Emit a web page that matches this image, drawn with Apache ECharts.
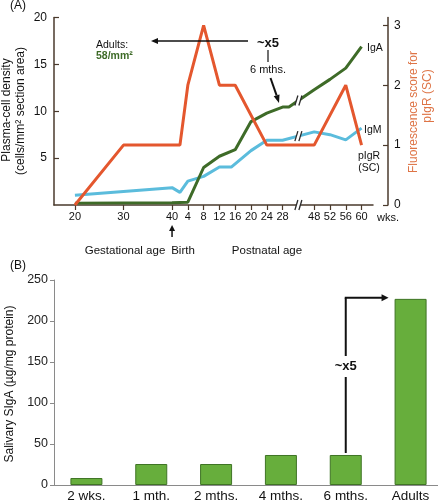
<!DOCTYPE html>
<html><head><meta charset="utf-8">
<script src="https://cdn.jsdelivr.net/npm/echarts@6/dist/echarts.min.js"></script>
<style>html,body{margin:0;padding:0;background:#fff}#c{width:438px;height:500px}</style>
</head><body><div id="c"></div>
<script>
// ---------- Panel A (age in weeks since conception: gestational week g -> g, postnatal week w -> 40 + w)
const igaAge  = [20, 40, 44, 48, 52, 56, 60, 64, 68, 72, 88, 92, 96, 100];
const igaVal  = [0.2, 0.25, 0.3, 4.0, 5.2, 5.9, 8.9, 9.8, 10.45, 10.45, 12.3, 13.4, 14.6, 16.9];
const igmAge  = [20, 30, 40, 42, 44, 48, 52, 55, 60, 64, 68, 88, 92, 96, 100];
const igmVal  = [1.05, 1.45, 1.85, 1.35, 2.55, 3.05, 4.05, 4.05, 5.8, 6.9, 6.9, 7.8, 7.5, 6.95, 8.2];
const pigrAge = [20, 30, 42, 44, 48, 52, 56, 64, 88, 96, 100];
const pigrVal = [0, 1, 1, 2, 3, 2, 2, 1, 1, 2, 1];
const gestTicks  = [20, 30, 40];
const postTicks  = [4, 8, 12, 16, 20, 24, 28, 48, 52, 56, 60];
const rightTicks = [0, 1, 2, 3];
const breakWeek  = 38; // postnatal week where the axis is broken
// ---------- Panel B
const sigaCats = ['2 wks.', '1 mth.', '2 mths.', '4 mths.', '6 mths.', 'Adults'];
const sigaVals = [8.5, 25.6, 25.6, 36.6, 36.6, 227];

// broken / two-scale age axis: gestational weeks are drawn wider, weeks 28-48 postnatal are compressed
function toAxis(t){
  if (t <= 40) return (t - 40) * 1.23;
  const w = t - 40;
  if (w <= 28) return w;
  if (w <= 48) return 28 + (w - 28) * 0.4;
  return w - 12;
}
const pair = (ages, vals) => ages.map((t, i) => [toAxis(t), vals[i]]);
const xTickVals = gestTicks.map(toAxis).concat(postTicks.map(w => toAxis(40 + w)));
const labelMap = {};
gestTicks.forEach(g => labelMap[toAxis(g).toFixed(3)] = String(g));
postTicks.forEach(w => labelMap[toAxis(40 + w).toFixed(3)] = String(w));

const FONT = '"Liberation Sans", Arial, Helvetica, sans-serif';
const BROWN = '#4a3a2c', RED = '#e4572e', GREEN = '#3e6b28', BLUE = '#5bbcdc', ORANGE = '#de7446';

const chart = echarts.init(document.getElementById('c'), null, {renderer: 'canvas'});
chart.setOption({
  animation: false,
  backgroundColor: '#ffffff',
  textStyle: {fontFamily: FONT},
  grid: [
    {left: 54, top: 17.5, width: 319, height: 187.5, containLabel: false, outerBoundsMode: 'none'},
    {left: 54, top: 280, width: 389, height: 205, containLabel: false, outerBoundsMode: 'none'}
  ],
  xAxis: [
    {type: 'value', gridIndex: 0, min: -29.9, max: 50.9,
     axisLine: {onZero: false, lineStyle: {color: BROWN, width: 1.5}},
     axisTick: {show: true, customValues: xTickVals, length: 5, lineStyle: {color: BROWN, width: 1.2}},
     axisLabel: {customValues: xTickVals, formatter: v => labelMap[v.toFixed(3)] || '',
                 fontSize: 11, color: '#111', margin: 6, fontFamily: FONT},
     splitLine: {show: false}},
    {type: 'category', gridIndex: 1, data: sigaCats,
     axisLine: {lineStyle: {color: '#8a8a8a', width: 1}},
     axisTick: {show: false},
     axisLabel: {fontSize: 13.5, color: '#111', margin: 4, fontFamily: FONT},
     splitLine: {show: false}}
  ],
  yAxis: [
    {type: 'value', gridIndex: 0, min: 0, max: 20, interval: 5,
     axisLine: {show: true, onZero: false, lineStyle: {color: BROWN, width: 1.5}},
     axisTick: {show: true, inside: true, length: 5, lineStyle: {color: BROWN, width: 1.2}},
     axisLabel: {fontSize: 12, color: '#111', margin: 7, fontFamily: FONT, showMinLabel: false},
     splitLine: {show: false}},
    {type: 'value', gridIndex: 0, position: 'right', offset: 15, min: 0, max: 3.13,
     axisLine: {show: true, onZero: false, lineStyle: {color: BROWN, width: 1.5}},
     axisTick: {show: true, inside: true, length: 5, customValues: rightTicks, lineStyle: {color: BROWN, width: 1.2}},
     axisLabel: {customValues: rightTicks, fontSize: 12, color: '#111', margin: 6, fontFamily: FONT},
     splitLine: {show: false}},
    {type: 'value', gridIndex: 1, min: 0, max: 250, interval: 50,
     axisLine: {show: true, onZero: false, lineStyle: {color: '#8a8a8a', width: 1}},
     axisTick: {show: true, length: 4, lineStyle: {color: '#8a8a8a'}},
     axisLabel: {fontSize: 12.5, color: '#222', margin: 6, fontFamily: FONT},
     splitLine: {show: false}}
  ],
  series: [
    {name: 'IgM', type: 'line', xAxisIndex: 0, yAxisIndex: 0, data: pair(igmAge, igmVal),
     symbol: 'none', lineStyle: {color: BLUE, width: 3}, z: 2},
    {name: 'IgA', type: 'line', xAxisIndex: 0, yAxisIndex: 0, data: pair(igaAge, igaVal),
     symbol: 'none', lineStyle: {color: GREEN, width: 3}, z: 3},
    {name: 'pIgR (SC)', type: 'line', xAxisIndex: 0, yAxisIndex: 1, data: pair(pigrAge, pigrVal),
     symbol: 'none', lineStyle: {color: RED, width: 3}, z: 4},
    {name: 'Salivary SIgA', type: 'bar', xAxisIndex: 1, yAxisIndex: 2, data: sigaVals, barWidth: 32,
     itemStyle: {color: '#67ae3c', borderColor: '#3f7425', borderWidth: 1}}
  ]
});

// ---------- annotations
const T = (text, x, y, o = {}) => ({type: 'text', x, y, rotation: o.rot || 0, z: 100,
  style: {text, x: 0, y: 0, fill: o.color || '#111',
          font: (o.bold ? 'bold ' : '') + (o.size || 12) + 'px ' + FONT,
          align: o.align || 'center', verticalAlign: 'middle',
          textAlign: o.align || 'center', textVerticalAlign: 'middle'}});
const L = (x1, y1, x2, y2, w = 1, c = '#111') => ({type: 'line', z: 100, shape: {x1, y1, x2, y2}, style: {stroke: c, lineWidth: w}});
const P = (pts, c = '#111') => ({type: 'polygon', z: 100, shape: {points: pts}, style: {fill: c}});
function brk(x, y, h) {
  return [P([[x - 3.5, y + h], [x - 0.5, y - h], [x + 3.5, y - h], [x + 0.5, y + h]], '#fff'),
          L(x - 3.5, y + h, x - 0.5, y - h, 1.3, '#2a2a2a'), L(x + 0.5, y + h, x + 3.5, y - h, 1.3, '#2a2a2a')];
}
function interp(ages, vals, t) {
  const u = toAxis(t);
  for (let i = 0; i < ages.length - 1; i++) {
    const a = toAxis(ages[i]), b = toAxis(ages[i + 1]);
    if (u >= a && u <= b) return vals[i] + (vals[i + 1] - vals[i]) * (u - a) / (b - a);
  }
  return vals[vals.length - 1];
}
const pA = (t, v) => chart.convertToPixel({xAxisIndex: 0, yAxisIndex: 0}, [toAxis(t), v]);
const pB = (c, v) => chart.convertToPixel({xAxisIndex: 1, yAxisIndex: 2}, [c, v]);

const g = [];
g.push(T('(A)', 18, 6, {size: 12}));
g.push(T('(B)', 18, 266, {size: 12}));
// axis names
g.push(T('Plasma-cell density', 7, 110, {rot: Math.PI / 2, size: 12}));
g.push(T('(cells/mm² section area)', 21, 111, {rot: Math.PI / 2, size: 12}));
g.push(T('Fluorescence score for', 414, 112, {rot: Math.PI / 2, size: 12, color: ORANGE}));
g.push(T('pIgR (SC)', 428, 96, {rot: Math.PI / 2, size: 12, color: ORANGE}));
g.push(T('Salivary SIgA (µg/mg protein)', 10, 384, {rot: Math.PI / 2, size: 12}));
// adults note + arrow
g.push(T('Adults:', 96, 45, {size: 10.5, align: 'left'}));
g.push(T('58/mm²', 96, 56, {size: 10.5, bold: true, align: 'left', color: '#3e6b28'}));
g.push(L(248, 41, 156, 41, 1.5));
g.push(P([[151, 41], [158, 38], [158, 44]]));
g.push(T('~x5', 268, 43, {size: 13, bold: true}));
g.push(L(268, 50, 268, 62, 1.2));
g.push(T('6 mths.', 268, 70, {size: 11}));
g.push(L(270.5, 78, 276.6, 95.4, 2));
g.push(P([[279, 103], [279.5, 94.5], [273.7, 96.3]]));
// series labels
g.push(T('IgA', 367, 48, {size: 10.5, align: 'left'}));
g.push(T('IgM', 364, 130, {size: 10.5, align: 'left'}));
g.push(T('pIgR', 369, 156, {size: 10.5}));
g.push(T('(SC)', 369, 168, {size: 10.5}));
// axis breaks
const bt = 40 + breakWeek;
const pg = pA(bt, interp(igaAge, igaVal, bt));
const pm = pA(bt, interp(igmAge, igmVal, bt));
const px0 = pA(bt, 0);
g.push(...brk(pg[0], pg[1], 5), ...brk(pm[0], pm[1], 5), ...brk(px0[0], px0[1], 5));
g.push(T('wks.', 377, 218, {size: 11, align: 'left'}));
// birth arrow and age captions
const pb = pA(40, 0);
g.push(L(pb[0], 237, pb[0], 229, 1.5));
g.push(P([[pb[0], 225], [pb[0] - 3, 231], [pb[0] + 3, 231]]));
g.push(T('Gestational age', 125, 251, {size: 11.5}));
g.push(T('Birth', 183, 251, {size: 11.5}));
g.push(T('Postnatal age', 267, 251, {size: 11.5}));
// panel B ~x5 arrow
const b6 = pB('6 mths.', sigaVals[4]);
const bA = pB('Adults', sigaVals[5]);
const xTip = bA[0] - 16 - 6;
g.push(L(b6[0], b6[1] - 2, b6[0], 377, 2));
g.push(T('~x5', b6[0], 366, {size: 13, bold: true}));
g.push(L(b6[0], 356, b6[0], bA[1] - 1, 2));
g.push(L(b6[0] - 1, bA[1] - 1, xTip - 5, bA[1] - 1, 2));
g.push(P([[xTip, bA[1] - 1], [xTip - 7, bA[1] - 4.5], [xTip - 7, bA[1] + 2.5]]));
chart.setOption({graphic: g});
</script></body></html>
